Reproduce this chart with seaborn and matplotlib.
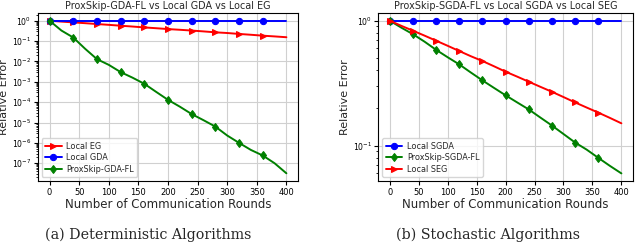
import numpy as np
import pandas as pd
import matplotlib
matplotlib.use("Agg")
import matplotlib.pyplot as plt
import seaborn as sns

# ---- data ----
rounds20 = [0, 20, 40, 60, 80, 100, 120, 140, 160, 180, 200, 220, 240, 260, 280, 300, 320, 340, 360, 380, 400]
det_proxskip = [1.0, 0.33, 0.15, 0.042, 0.013, 0.0068, 0.003, 0.0016, 0.0008, 0.00032, 0.00013,
                6.0e-5, 2.6e-5, 1.3e-5, 6.3e-6, 2.3e-6, 1.0e-6, 4.5e-7, 2.4e-7, 1.0e-7, 3.2e-8]
det_eg = [1.0, 0.91, 0.83, 0.76, 0.69, 0.63, 0.57, 0.52, 0.47, 0.43, 0.39,
          0.36, 0.33, 0.30, 0.27, 0.25, 0.225, 0.205, 0.185, 0.17, 0.155]
det_gda = [1.0] * 21

sto_proxskip = [1.0, 0.88, 0.78, 0.68, 0.585, 0.51, 0.447, 0.385, 0.333, 0.29, 0.253,
                0.222, 0.195, 0.168, 0.145, 0.124, 0.106, 0.093, 0.080, 0.069, 0.060]
sto_seg = [1.0, 0.91, 0.832, 0.76, 0.692, 0.63, 0.572, 0.52, 0.476, 0.432, 0.391,
           0.357, 0.325, 0.296, 0.27, 0.245, 0.222, 0.202, 0.184, 0.167, 0.151]
sto_sgda = [1.0] * 21

xticks = [0, 50, 100, 150, 200, 250, 300, 350, 400]
marks = list(range(0, 20, 2))

sns.set_style("whitegrid")
plt.rcParams["font.family"] = ["DejaVu Sans"]
plt.rcParams.update({
    "axes.edgecolor": "black",
    "axes.linewidth": 0.8,
    "grid.color": "#d0d0d0",
    "grid.linewidth": 0.8,
    "xtick.bottom": True,
    "ytick.left": True,
    "xtick.major.size": 3,
    "ytick.major.size": 3,
    "ytick.minor.size": 1.8,
    "xtick.color": "black",
    "ytick.color": "black",
})

fig = plt.figure(figsize=(6.4, 2.43), dpi=100)
ax1 = fig.add_axes([0.059, 0.255, 0.407, 0.691])
ax2 = fig.add_axes([0.591, 0.255, 0.398, 0.691])

def draw(ax, y, color, marker, label):
    sns.lineplot(x=rounds20, y=y, ax=ax, color=color, marker=marker, markevery=marks,
                 markersize=4.5, linewidth=1.4, label=label, markeredgecolor=color,
                 markerfacecolor=color)

draw(ax1, det_eg, "red", ">", "Local EG")
draw(ax1, det_gda, "blue", "o", "Local GDA")
draw(ax1, det_proxskip, "green", "d", "ProxSkip-GDA-FL")

draw(ax2, sto_sgda, "blue", "o", "Local SGDA")
draw(ax2, sto_proxskip, "green", "d", "ProxSkip-SGDA-FL")
draw(ax2, sto_seg, "red", ">", "Local SEG")

titles = ["ProxSkip-GDA-FL vs Local GDA vs Local EG",
          "ProxSkip-SGDA-FL vs Local SGDA vs Local SEG"]
for ax, t in zip([ax1, ax2], titles):
    ax.set_yscale("log")
    ax.set_xlim(-20, 420)
    ax.set_xticks(xticks)
    ax.tick_params(axis="x", labelsize=6, pad=2)
    ax.tick_params(axis="y", labelsize=5.6, pad=1.5)
    ax.set_title(t, fontsize=6.9, pad=3)
    ax.set_xlabel("Number of Communication Rounds", fontsize=8.5, labelpad=1)
    ax.set_ylabel("Relative Error", fontsize=8)
    ax.yaxis.set_label_coords(-0.112, 0.5)
    ax.grid(True, which="major")
    ax.grid(False, which="minor")
    for s in ax.spines.values():
        s.set_color("black")
    ax.legend(loc="lower left", fontsize=5.9, frameon=True, borderpad=0.4,
              labelspacing=0.3, handlelength=2.0, handletextpad=0.6)

ax1.set_ylim(10 ** -7.875, 10 ** 0.375)
ax1.set_yticks([10.0 ** -k for k in range(0, 8)])
ax2.set_ylim(10 ** -1.283, 10 ** 0.061)

fig.text(0.232, 0.033, "(a) Deterministic Algorithms", fontsize=10.3,
         family="DejaVu Serif", ha="center", va="center")
fig.text(0.762, 0.033, "(b) Stochastic Algorithms", fontsize=10.3,
         family="DejaVu Serif", ha="center", va="center")

fig.savefig("out.png", dpi=100)
